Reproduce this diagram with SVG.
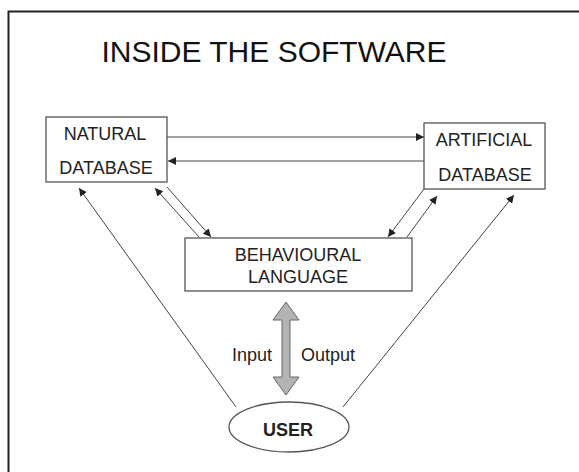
<svg xmlns="http://www.w3.org/2000/svg" width="579" height="472" viewBox="0 0 579 472">
<style>
.box{fill:#fff;stroke:#555;stroke-width:1.3}
.t{font-family:"Liberation Sans",Arial,sans-serif;font-size:18px;fill:#222;text-anchor:middle}
.c{stroke:#444;stroke-width:1;fill:none}
</style>
<defs>
<marker id="ah" viewBox="0 0 10 10" refX="10" refY="5" markerWidth="8" markerHeight="8" markerUnits="userSpaceOnUse" orient="auto">
<path d="M0,0 L10,5 L0,10 z" fill="#222"/>
</marker>
</defs>
<rect width="579" height="472" fill="#fff"/>
<path d="M8.5,472 V11.5 H579" fill="none" stroke="#222" stroke-width="2"/>
<text x="274" y="62" style="font-family:'Liberation Sans',Arial,sans-serif;font-size:30px;fill:#111;text-anchor:middle">INSIDE THE SOFTWARE</text>
<g id="connectors">
<line class="c" x1="167" y1="137" x2="424" y2="137" marker-end="url(#ah)"/>
<line class="c" x1="424" y1="161" x2="168" y2="161" marker-end="url(#ah)"/>
<line class="c" x1="199" y1="237" x2="155" y2="188" marker-end="url(#ah)"/>
<line class="c" x1="167" y1="187" x2="211" y2="237" marker-end="url(#ah)"/>
<line class="c" x1="424" y1="189" x2="388" y2="237" marker-end="url(#ah)"/>
<line class="c" x1="407" y1="237" x2="437" y2="196" marker-end="url(#ah)"/>
<line class="c" x1="236" y1="407" x2="79" y2="188" marker-end="url(#ah)"/>
<line class="c" x1="343" y1="407" x2="514" y2="195" marker-end="url(#ah)"/>
<path d="M286,302 L299,320 L290,320 L290,377 L299,377 L286,395 L273,377 L282,377 L282,320 L273,320 Z" fill="#b3b3b3" stroke="#666" stroke-width="1"/>
</g>
<g id="natural">
<rect class="box" x="46" y="117" width="121" height="65"/>
<text class="t" x="105" y="140">NATURAL</text>
<text class="t" x="106" y="174">DATABASE</text>
</g>
<g id="artificial">
<rect class="box" x="424" y="123" width="121" height="66"/>
<text class="t" x="484" y="146">ARTIFICIAL</text>
<text class="t" x="485" y="181">DATABASE</text>
</g>
<g id="behavioural">
<rect class="box" x="185" y="238" width="227" height="53"/>
<text class="t" x="298" y="261">BEHAVIOURAL</text>
<text class="t" x="298" y="283">LANGUAGE</text>
</g>
<g id="io">
<text class="t" x="252" y="361">Input</text>
<text class="t" x="328" y="361">Output</text>
</g>
<g id="user">
<ellipse class="box" cx="289" cy="427" rx="60" ry="25"/>
<text class="t" x="288" y="436" style="font-weight:bold">USER</text>
</g>
</svg>
